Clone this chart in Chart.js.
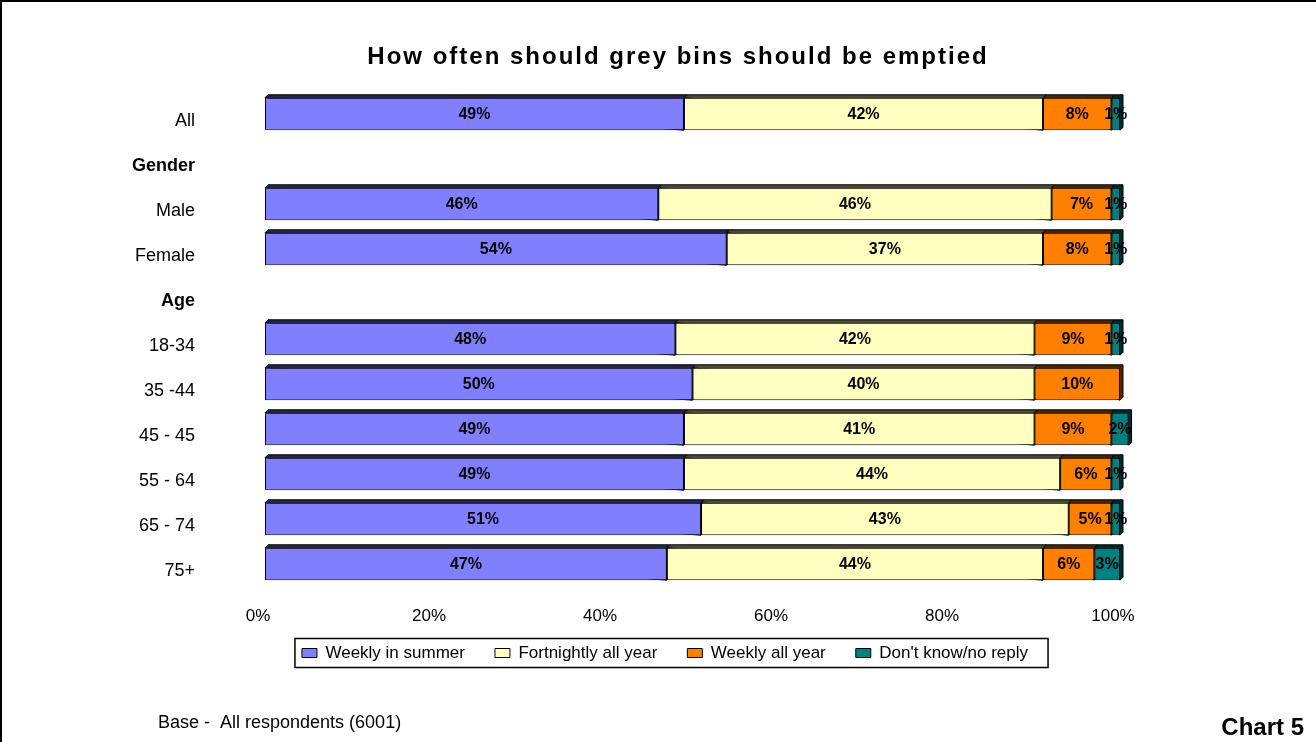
<!DOCTYPE html>
<html>
<head>
<meta charset="utf-8">
<title>How often should grey bins should be emptied</title>
<script src="https://cdn.jsdelivr.net/npm/chart.js@4.4.1/dist/chart.umd.min.js"></script>
<style>
  html, body { margin: 0; padding: 0; background: #fff; }
  #chart { display: block; }
</style>
</head>
<body>
<canvas id="chart" width="1316" height="742"></canvas>
<script>
// rows down the side, the two section headers have no bar
const categories = ['All', 'Gender', 'Male', 'Female', 'Age', '18-34', '35 -44', '45 - 45', '55 - 64', '65 - 74', '75+'];
const headerRows = ['Gender', 'Age'];

// answers in %, stacked left to right
const weeklyInSummer     = [49, null, 46, 54, null, 48, 50, 49, 49, 51, 47];
const fortnightlyAllYear = [42, null, 46, 37, null, 42, 40, 41, 44, 43, 44];
const weeklyAllYear      = [8,  null, 7,  8,  null, 9,  10, 9,  6,  5,  6];
const dontKnow           = [1,  null, 1,  1,  null, 1,  null, 2, 1,  1,  3];

const seriesNames = ['Weekly in summer', 'Fortnightly all year', 'Weekly all year', "Don't know/no reply"];
const xTicks = [0, 20, 40, 60, 80, 100];

const chartTitle = 'How often should grey bins should be emptied';
const baseNote = 'Base -  All respondents (6001)';
const chartNo = 'Chart 5';

const fills = ['#8080FF', '#FFFFC0', '#FF8000', '#008080'];
const shades = ['#26264c', '#4c4c39', '#4c2600', '#002a2a'];

const FONT = "'Liberation Sans', Arial, sans-serif";
Chart.defaults.font.family = FONT;
Chart.defaults.color = '#000';

// fake 3d: top and right face behind every segment
const depth = 3;
const barDepth = {
  id: 'barDepth',
  beforeDatasetsDraw(chart) {
    const ctx = chart.ctx;
    ctx.save();
    ctx.lineWidth = 1;
    ctx.strokeStyle = '#000';
    chart.data.datasets.forEach((ds, i) => {
      chart.getDatasetMeta(i).data.forEach((bar, j) => {
        if (ds.data[j] == null) return;
        const left = Math.min(bar.x, bar.base), right = Math.max(bar.x, bar.base);
        const top = bar.y - bar.height / 2, bottom = bar.y + bar.height / 2;
        ctx.fillStyle = shades[i];
        ctx.beginPath();
        ctx.moveTo(left, top);
        ctx.lineTo(left + depth, top - depth);
        ctx.lineTo(right + depth, top - depth);
        ctx.lineTo(right + depth, bottom - depth);
        ctx.lineTo(right, bottom);
        ctx.closePath();
        ctx.fill();
        ctx.stroke();
      });
    });
    ctx.restore();
  }
};

// percentage in the middle of each segment
const valueLabels = {
  id: 'valueLabels',
  afterDatasetsDraw(chart) {
    const ctx = chart.ctx;
    ctx.save();
    ctx.font = 'bold 16px ' + FONT;
    ctx.fillStyle = '#000';
    ctx.textAlign = 'center';
    ctx.textBaseline = 'middle';
    chart.data.datasets.forEach((ds, i) => {
      chart.getDatasetMeta(i).data.forEach((bar, j) => {
        const v = ds.data[j];
        if (!v) return;
        ctx.fillText(v + '%', (bar.x + bar.base) / 2, bar.y + 1);
      });
    });
    ctx.restore();
  }
};

// the legend sits a bit higher than the layout puts it, and a little right of centre
const legendNudge = {
  id: 'legendNudge',
  afterLayout(chart) {
    const lg = chart.legend;
    lg.top -= 14; lg.bottom -= 14;
    lg.left += 7; lg.right += 7;
  }
};

// title, page frame, legend frame and footer texts
const pageText = {
  id: 'pageText',
  afterDraw(chart) {
    const ctx = chart.ctx;
    ctx.save();
    ctx.fillStyle = '#000';
    ctx.fillRect(0, 0, chart.width, 2);
    ctx.fillRect(0, 0, 2, chart.height);

    ctx.font = 'bold 24px ' + FONT;
    ctx.letterSpacing = '2px';
    ctx.textAlign = 'center';
    ctx.textBaseline = 'alphabetic';
    ctx.fillText(chartTitle, 678, 64);
    ctx.letterSpacing = '0px';

    const boxes = chart.legend.legendHitBoxes;
    if (boxes && boxes.length) {
      const first = boxes[0], last = boxes[boxes.length - 1];
      const l = first.left - 7, r = last.left + last.width + 20;
      const mid = first.top + first.height / 2;
      ctx.lineWidth = 1.5;
      ctx.strokeStyle = '#000';
      ctx.strokeRect(l, mid - 14.5, r - l, 29);
    }

    ctx.font = '18px ' + FONT;
    ctx.textAlign = 'left';
    ctx.fillText(baseNote, 158, 728);
    ctx.font = 'bold 24px ' + FONT;
    ctx.textAlign = 'right';
    ctx.fillText(chartNo, 1304, 735);
    ctx.restore();
  }
};

const series = [weeklyInSummer, fortnightlyAllYear, weeklyAllYear, dontKnow];

new Chart(document.getElementById('chart'), {
  type: 'bar',
  data: {
    labels: categories,
    datasets: series.map((d, i) => ({
      label: seriesNames[i],
      data: d,
      backgroundColor: fills[i],
      borderColor: '#000',
      borderWidth: 1,
      borderSkipped: false,
      barPercentage: 0.72,
      categoryPercentage: 1,
      clip: false
    }))
  },
  options: {
    indexAxis: 'y',
    responsive: false,
    animation: false,
    devicePixelRatio: 1,
    layout: { padding: { top: 91.5, left: 0, right: 0, bottom: 56.5 } },
    scales: {
      x: {
        stacked: true,
        min: 0,
        max: 100,
        grid: { display: false, drawTicks: false },
        border: { display: false },
        ticks: { padding: 20, labelOffset: -7, color: '#000', font: { size: 17 }, callback: v => v + '%' },
        afterBuildTicks: s => { s.ticks = xTicks.map(v => ({ value: v })); },
        afterFit: s => { s.height = 42; }
      },
      y: {
        stacked: true,
        grid: { display: false, drawTicks: false },
        border: { display: false },
        ticks: {
          padding: 70,
          labelOffset: 7,
          color: '#000',
          font: c => ({ family: FONT, size: 18, weight: headerRows.includes(categories[c.index]) ? 'bold' : 'normal' })
        },
        afterFit: s => { s.width = 265; }
      },
      spacer: {
        type: 'linear',
        axis: 'y',
        position: 'right',
        grid: { display: false, drawTicks: false },
        border: { display: false },
        ticks: { display: false },
        afterFit: s => { s.width = 196; }
      }
    },
    plugins: {
      title: { display: false },
      tooltip: { enabled: false },
      legend: {
        position: 'bottom',
        labels: { boxWidth: 15, boxHeight: 9, padding: 30, color: '#000', font: { size: 17 } }
      }
    }
  },
  plugins: [barDepth, valueLabels, legendNudge, pageText]
});
</script>
</body>
</html>
